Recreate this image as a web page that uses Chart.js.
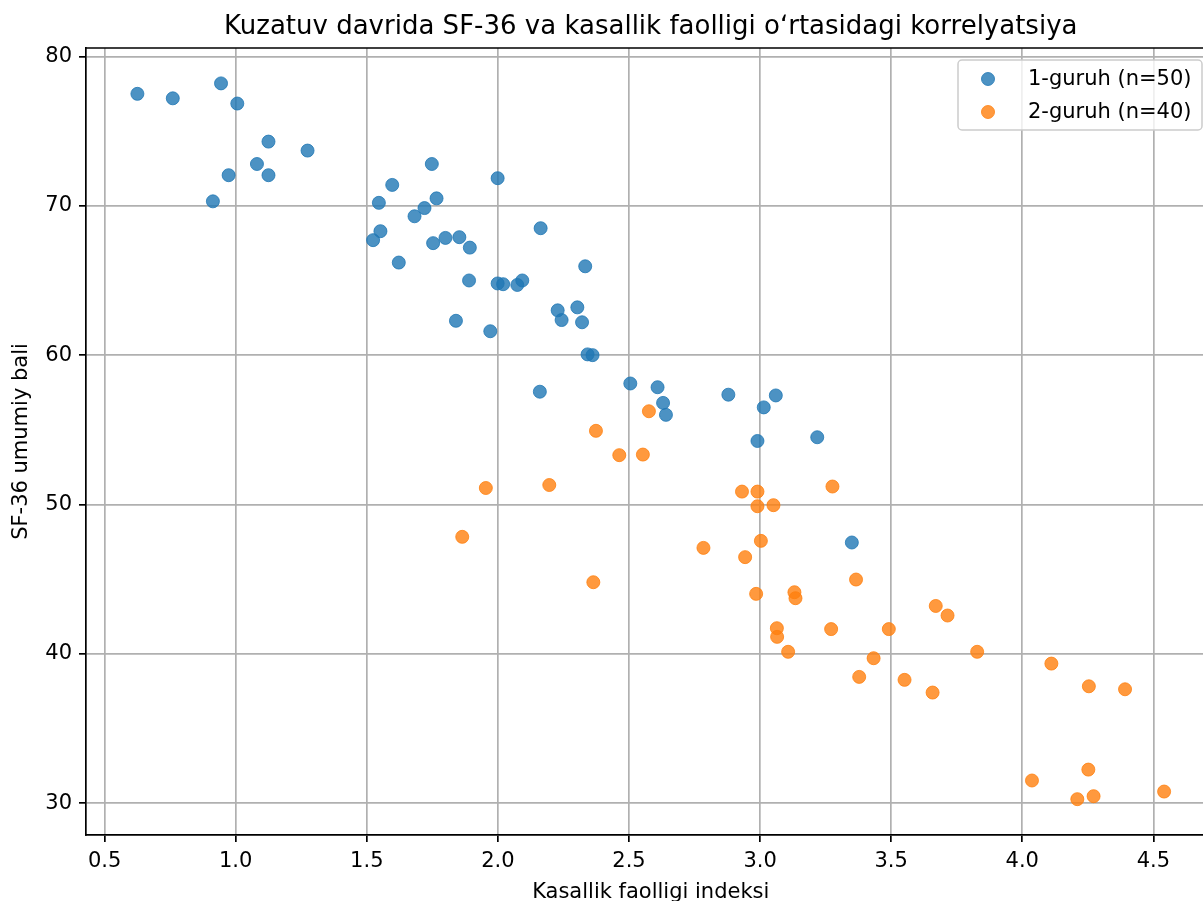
<!DOCTYPE html>
<html>
<head>
<meta charset="utf-8">
<script src="https://cdn.jsdelivr.net/npm/chart.js@4/dist/chart.umd.min.js"></script>
<style>
  html, body { margin: 0; padding: 0; background: #fff; overflow: hidden; }
  canvas { display: block; }
</style>
</head>
<body>
<canvas id="myChart" width="1223" height="901"></canvas>
<script>
const groupNames = ['1-guruh (n=50)', '2-guruh (n=40)'];

// 1-guruh
const group1X = [0.625, 0.76, 0.944, 1.006, 0.913, 0.973, 1.081, 1.125, 1.125, 1.274,
  1.524, 1.546, 1.552, 1.597, 1.622, 1.682, 1.72, 1.748, 1.753, 1.766,
  1.80, 1.853, 1.84, 1.893, 1.89, 1.999, 1.999, 2.02, 2.074, 2.093,
  1.971, 2.163, 2.333, 2.228, 2.243, 2.303, 2.321, 2.342, 2.361, 2.16,
  2.505, 2.609, 2.63, 2.641, 2.879, 3.06, 3.014, 2.99, 3.218, 3.35];
const group1Y = [77.5, 77.2, 78.2, 76.85, 70.3, 72.05, 72.8, 74.3, 72.05, 73.7,
  67.7, 70.2, 68.3, 71.4, 66.2, 69.3, 69.85, 72.8, 67.5, 70.5,
  67.85, 67.9, 62.3, 67.2, 65.0, 71.85, 64.8, 64.75, 64.7, 65.0,
  61.6, 68.5, 65.95, 63.0, 62.35, 63.2, 62.2, 60.05, 60.0, 57.55,
  58.1, 57.85, 56.8, 56.0, 57.35, 57.3, 56.5, 54.25, 54.5, 47.45];

// 2-guruh
const group2X = [2.576, 2.374, 2.463, 2.553, 1.954, 2.196, 2.931, 2.99, 3.276, 1.864,
  2.364, 2.784, 2.943, 2.99, 3.051, 3.003, 2.985, 3.131, 3.135, 3.064,
  3.065, 3.107, 3.366, 3.67, 3.715, 3.271, 3.491, 3.828, 3.433, 3.378,
  3.551, 3.658, 4.111, 4.254, 4.392, 4.037, 4.252, 4.21, 4.272, 4.541];
const group2Y = [56.24, 54.93, 53.3, 53.34, 51.1, 51.3, 50.86, 50.86, 51.2, 47.83,
  44.79, 47.09, 46.47, 49.88, 49.95, 47.56, 44.01, 44.12, 43.72, 41.71,
  41.13, 40.13, 44.97, 43.2, 42.56, 41.65, 41.65, 40.13, 39.7, 38.45,
  38.25, 37.4, 39.34, 37.82, 37.62, 31.51, 32.24, 30.26, 30.46, 30.77];

const blue = 'rgba(31, 119, 180, 0.8)';
const orange = 'rgba(255, 127, 14, 0.8)';
const font = 'DejaVu Sans';

const toPoints = (xs, ys) => xs.map((x, i) => ({x: x, y: ys[i]}));

// top spine + matplotlib-like legend box
const framePlugin = {
  id: 'frame',
  afterDraw(chart) {
    const ctx = chart.ctx;
    const area = chart.chartArea;
    ctx.save();
    ctx.strokeStyle = '#000';
    ctx.lineWidth = 1.7;
    ctx.beginPath();
    ctx.moveTo(area.left, area.top);
    ctx.lineTo(area.right, area.top);
    ctx.lineTo(area.right, area.bottom);
    ctx.stroke();

    const boxX = 958, boxY = 60, boxW = 244, boxH = 70, r = 4;
    ctx.beginPath();
    ctx.moveTo(boxX + r, boxY);
    ctx.arcTo(boxX + boxW, boxY, boxX + boxW, boxY + boxH, r);
    ctx.arcTo(boxX + boxW, boxY + boxH, boxX, boxY + boxH, r);
    ctx.arcTo(boxX, boxY + boxH, boxX, boxY, r);
    ctx.arcTo(boxX, boxY, boxX + boxW, boxY, r);
    ctx.closePath();
    ctx.fillStyle = 'rgba(255, 255, 255, 0.8)';
    ctx.fill();
    ctx.strokeStyle = '#cccccc';
    ctx.lineWidth = 1.5;
    ctx.stroke();

    ctx.font = '21px "' + font + '"';
    ctx.textBaseline = 'middle';
    ctx.textAlign = 'left';
    chart.data.datasets.forEach((ds, i) => {
      const cy = boxY + 19 + i * 33;
      ctx.beginPath();
      ctx.arc(988, cy, 6.5, 0, Math.PI * 2);
      ctx.fillStyle = ds.backgroundColor;
      ctx.fill();
      ctx.lineWidth = 1;
      ctx.strokeStyle = ds.borderColor;
      ctx.stroke();
      ctx.fillStyle = '#000';
      ctx.fillText(ds.label, 1028, cy + 1);
    });
    ctx.restore();
  }
};

new Chart(document.getElementById('myChart'), {
  type: 'scatter',
  data: {
    datasets: [{
      label: groupNames[0],
      data: toPoints(group1X, group1Y),
      backgroundColor: blue,
      borderColor: blue,
      borderWidth: 1,
      pointRadius: 6.5,
      order: 1
    }, {
      label: groupNames[1],
      data: toPoints(group2X, group2Y),
      backgroundColor: orange,
      borderColor: orange,
      borderWidth: 1,
      pointRadius: 6.5,
      order: 0
    }]
  },
  options: {
    responsive: false,
    animation: false,
    events: [],
    layout: { padding: 0 },
    plugins: {
      legend: { display: false },
      tooltip: { enabled: false },
      title: {
        display: true,
        fullSize: false,
        text: 'Kuzatuv davrida SF-36 va kasallik faolligi oʻrtasidagi korrelyatsiya',
        color: '#000',
        font: { family: font, size: 26, weight: 'normal' },
        padding: { top: 12, bottom: 4.8 }
      }
    },
    scales: {
      x: {
        type: 'linear',
        min: 0.429,
        max: 4.737,
        afterFit: (scale) => { scale.height = 66; },
        ticks: {
          stepSize: 0.5,
          includeBounds: false,
          color: '#000',
          padding: 7,
          font: { family: font, size: 21 },
          callback: (v) => v.toFixed(1)
        },
        grid: { color: '#b0b0b0', lineWidth: 1.7, tickColor: '#000', tickLength: 7, tickWidth: 1.7 },
        border: { color: '#000', width: 1.7 },
        title: {
          display: true,
          text: 'Kasallik faolligi indeksi',
          color: '#000',
          font: { family: font, size: 21 },
          padding: { top: 0, bottom: -4 }
        }
      },
      y: {
        type: 'linear',
        min: 27.86,
        max: 80.57,
        afterFit: (scale) => { scale.width = 86; },
        ticks: {
          stepSize: 10,
          includeBounds: false,
          color: '#000',
          padding: 7,
          font: { family: font, size: 21 }
        },
        grid: { color: '#b0b0b0', lineWidth: 1.7, tickColor: '#000', tickLength: 7, tickWidth: 1.7 },
        border: { color: '#000', width: 1.7 },
        title: {
          display: true,
          text: 'SF-36 umumiy bali',
          color: '#000',
          font: { family: font, size: 21 },
          padding: { top: 9, bottom: 0 }
        }
      }
    }
  },
  plugins: [framePlugin]
});
</script>
</body>
</html>
